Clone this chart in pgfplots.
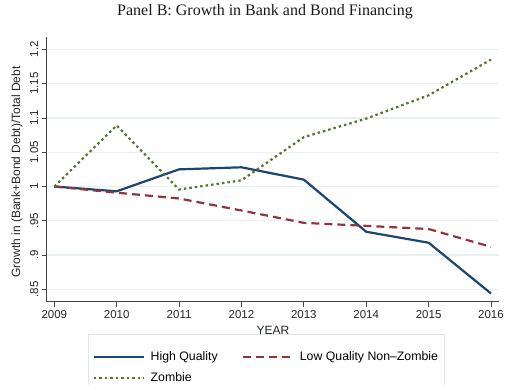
\documentclass[border=0pt]{standalone}
\usepackage{fontspec}
\setmainfont{Liberation Sans}
\newfontfamily\titlefont{Liberation Serif}
\usepackage{pgfplots}
\pgfplotsset{compat=1.18}
\definecolor{sNavy}{RGB}{26,71,111}
\definecolor{sMaroon}{RGB}{144,53,59}
\definecolor{sGreen}{RGB}{85,117,47}
\definecolor{gridc}{RGB}{232,240,242}
\definecolor{legc}{RGB}{220,232,234}
\definecolor{axc}{RGB}{70,70,70}
\begin{document}
\begin{tikzpicture}[x=1pt,y=1pt]
\begin{axis}[
  at={(0,0)}, anchor=south west,
  scale only axis, width=451.9pt, height=264.7pt,
  xmin=2008.878, xmax=2016.122, ymin=0.832, ymax=1.218,
  axis lines=left,
  axis line style={-, axc, line width=1pt},
  tick align=outside,
  major tick length=5pt,
  tick style={axc, line width=0.8pt},
  xtick={2009,2010,2011,2012,2013,2014,2015,2016},
  xticklabels={2009,2010,2011,2012,2013,2014,2015,2016},
  ytick={0.85,0.9,0.95,1,1.05,1.1,1.15,1.2},
  yticklabels={.85,.9,.95,1,1.05,1.1,1.15,1.2},
  ticklabel style={font=\fontsize{11.5}{13}\selectfont, text=black!85},
  yticklabel style={rotate=90, anchor=south},
  ymajorgrids,
  major grid style={gridc, line width=1.2pt},
  xlabel={YEAR},
  ylabel={Growth in (Bank+Bond Debt)/Total Debt},
  label style={font=\fontsize{12}{14}\selectfont, text=black!85},
  xlabel style={at={(axis description cs:0.5008,-0.108)}, anchor=center},
  ylabel style={at={(axis description cs:-0.0657,0.49)}, anchor=center},
  legend columns=2,
  legend cell align=left,
  legend style={at={(axis description cs:0.0914,-0.122)}, anchor=north west,
    draw=legc, line width=1pt, fill=white,
    font=\fontsize{12.3}{14}\selectfont,
    inner xsep=4pt, inner ysep=15pt,
    row sep=7pt,
    /tikz/every odd column/.append style={column sep=4pt},
    /tikz/every even column/.append style={column sep=22pt}},
  legend image code/.code={\draw[#1] (0pt,0pt) -- (50pt,0pt);},
]
\addplot[sNavy, line width=2.2pt, line join=round] coordinates {
(2009,1.000) (2010,0.993) (2011,1.025) (2012,1.028) (2013,1.010) (2014,0.934) (2015,0.918) (2016,0.844)};
\addlegendentry{High Quality}
\addplot[sMaroon, line width=2.2pt, dash pattern=on 8pt off 5pt] coordinates {
(2009,1.000) (2010,0.991) (2011,0.9825) (2012,0.965) (2013,0.947) (2014,0.9426) (2015,0.938) (2016,0.912)};
\addlegendentry{Low Quality Non–Zombie}
\addplot[sGreen, line width=2.2pt, dash pattern=on 2.5pt off 3pt] coordinates {
(2009,1.000) (2010,1.089) (2011,0.9956) (2012,1.009) (2013,1.072) (2014,1.099) (2015,1.133) (2016,1.185)};
\addlegendentry{Zombie}
\end{axis}
\node[anchor=base, font=\titlefont\fontsize{16}{19}\selectfont, text=black!90] at (218.3,286.7) {Panel B: Growth in Bank and Bond Financing};
\pgfresetboundingbox
\useasboundingbox (-46.7,-82.3) rectangle (458.3,301.7);
\end{tikzpicture}
\end{document}
